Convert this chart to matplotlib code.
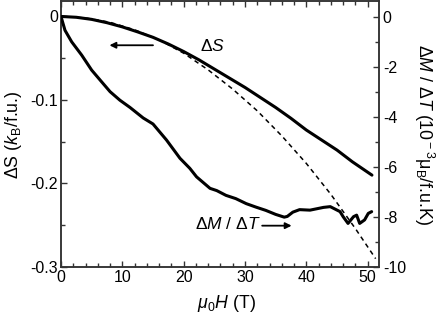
import matplotlib
matplotlib.use("Agg")
import matplotlib.pyplot as plt
from matplotlib.ticker import MultipleLocator, FuncFormatter

plt.rcParams['font.family'] = ['Liberation Sans', 'DejaVu Sans']
plt.rcParams['mathtext.fontset'] = 'custom'
plt.rcParams['mathtext.rm'] = 'Liberation Sans'
plt.rcParams['mathtext.it'] = 'Liberation Sans:italic'
plt.rcParams['mathtext.sf'] = 'Liberation Sans'

# Entropy change Delta S (k_B/f.u.) vs field (T)
h_ds = [0, 2.5, 5, 7.5, 10, 12.5, 15, 17.5, 20, 22.5, 25, 27.5, 30, 32.5, 35, 37.5, 40, 42.5, 45, 47.5, 50.7]
ds = [0, -0.001, -0.0035, -0.0075, -0.0125, -0.0185, -0.025, -0.033, -0.042, -0.052, -0.063, -0.074, -0.085,
      -0.097, -0.109, -0.122, -0.136, -0.148, -0.160, -0.174, -0.190]

# Quadratic low-field dashed curve (Delta S units)
h_fit = [0, 4, 8, 12, 16, 20, 24, 28, 32, 36, 40, 44, 48, 51.3]
ds_fit = [0, -0.0018, -0.007, -0.016, -0.028, -0.044, -0.064, -0.087, -0.113, -0.143, -0.176, -0.213, -0.254, -0.290]

# dM/dT (10^-3 mu_B/f.u.K) vs field (T)
h_dm = [0, 0.65, 1.74, 3.37, 5.0, 6.6, 8.0, 9.6, 11.25, 13.4, 15.0, 17.2, 19.4, 21.0, 22.1, 24.3, 25.4,
        26.9, 28.5, 30.2, 31.8, 33.4, 35.0, 36.4, 36.9, 37.8, 38.9, 40.6, 42.8, 43.9, 45.5, 46.0, 46.8,
        47.7, 48.2, 48.7, 49.5, 50.1, 50.65]
dm = [0, -0.55, -1.01, -1.54, -2.14, -2.60, -3.00, -3.34, -3.63, -4.05, -4.29, -4.93, -5.66, -6.06, -6.40,
      -6.86, -6.95, -7.14, -7.27, -7.47, -7.61, -7.74, -7.90, -8.01, -7.98, -7.81, -7.71, -7.73, -7.62,
      -7.59, -7.79, -7.99, -8.26, -7.99, -7.93, -8.26, -8.12, -7.86, -7.79]

W, H = 436, 317
fig = plt.figure(figsize=(W / 100, H / 100), dpi=100)
ax = fig.add_axes([61 / W, 1 - 267 / H, (378.7 - 61) / W, 266 / H])
ax2 = ax.twinx()

ax.plot(h_ds, ds, color='black', lw=2.2, solid_capstyle='round', zorder=3)
ax.plot(h_fit, ds_fit, color='black', lw=1.1, dashes=(3, 2.5), zorder=2)
ax2.plot(h_dm, dm, color='black', lw=2.2, solid_joinstyle='round', solid_capstyle='round', zorder=3)

ax.set_xlim(0, 51.8)
ax.set_ylim(-0.3, 0.0185)
ax2.set_ylim(-10, 0.62)

ax.xaxis.set_major_locator(MultipleLocator(10))
ax.xaxis.set_minor_locator(MultipleLocator(2))
ax.yaxis.set_major_locator(MultipleLocator(0.1))
ax.yaxis.set_minor_locator(MultipleLocator(0.05))
ax2.yaxis.set_major_locator(MultipleLocator(2))
ax2.yaxis.set_minor_locator(MultipleLocator(1))
ax.xaxis.set_major_formatter(FuncFormatter(lambda v, p: '%d' % round(v)))
ax.yaxis.set_major_formatter(FuncFormatter(lambda v, p: '0' if abs(v) < 1e-9 else ('%.1f' % v)))
ax2.yaxis.set_major_formatter(FuncFormatter(lambda v, p: '%d' % round(v)))

for a in (ax, ax2):
    for s in a.spines.values():
        s.set_linewidth(1.1)
        s.set_color('#333333')
ax.tick_params(axis='both', which='major', direction='in', length=4.5, width=1.0, labelsize=11.5, pad=2,
               top=True, right=False, color='#333333')
ax.tick_params(axis='both', which='minor', direction='in', length=2.8, width=1.0, top=True, right=False,
               color='#333333')
ax2.tick_params(axis='y', which='major', direction='in', length=4.5, width=1.0, labelsize=11.5, pad=3,
                color='#333333')
ax2.tick_params(axis='y', which='minor', direction='in', length=2.8, width=1.0, color='#333333')

# axis labels placed in figure pixels
fig.text(226 / W, 1 - 303 / H, r'$\mathit{\mu}_{\rm 0}\mathit{H}$ (T)', fontsize=12.8, ha='center', va='center')
fig.text(13 / W, 1 - 135 / H, r'$\Delta$S ($\mathit{k}_{\rm B}$/f.u.)', fontsize=12.8, ha='center', va='center',
         rotation=90)
fig.text(424 / W, 1 - 135 / H, r'$\Delta\mathit{M}$ / $\Delta\mathit{T}$ (10$^{\rm -3}$$\rm\mu_B$/f.u.K)',
         fontsize=12.8, ha='center', va='center', rotation=270)

fig.text(200 / W, 1 - 46 / H, r'$\Delta\mathit{S}$', fontsize=12.5, va='center', ha='left')
fig.text(195 / W, 1 - 224 / H, r'$\Delta\mathit{M}$ / $\Delta\mathit{T}$', fontsize=12.5, va='center', ha='left')

ax.annotate('', xy=(7.9, -0.0345), xytext=(15.0, -0.0345),
            arrowprops=dict(arrowstyle='-|>', color='black', lw=1.3, mutation_scale=9, shrinkA=0, shrinkB=0))
ax2.annotate('', xy=(37.6, -8.35), xytext=(32.8, -8.35),
             arrowprops=dict(arrowstyle='-|>', color='black', lw=1.3, mutation_scale=9, shrinkA=0, shrinkB=0))

fig.savefig('out.png', dpi=100)
